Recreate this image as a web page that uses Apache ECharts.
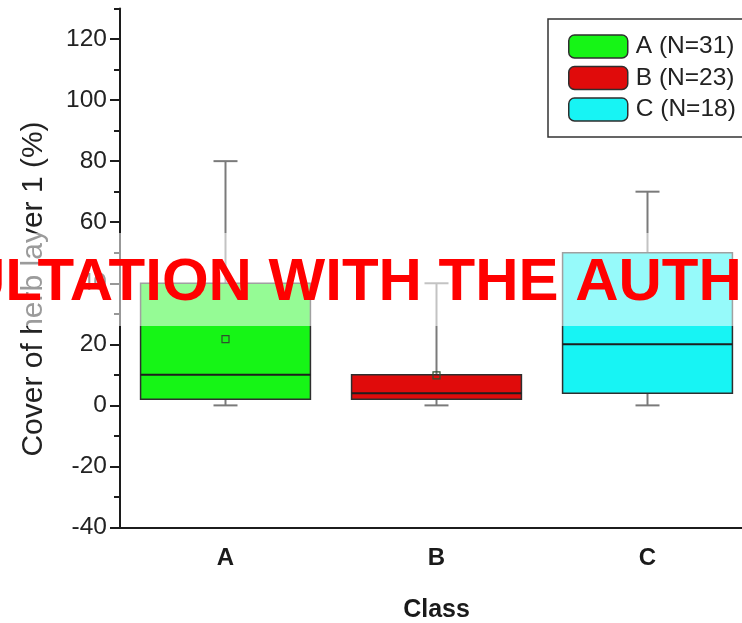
<!DOCTYPE html>
<html>
<head>
<meta charset="utf-8">
<script src="https://cdn.jsdelivr.net/npm/echarts@6/dist/echarts.min.js"></script>
<style>
html,body{margin:0;padding:0;background:#fff;}
#chart{width:742px;height:623px;}
</style>
</head>
<body>
<div id="chart"></div>
<script>
// ---- data ----
const categories = ['A', 'B', 'C'];
const legendNames = ['A (N=31)', 'B (N=23)', 'C (N=18)'];
const whiskerLow = [0, 0, 0];
const q1 = [2, 2, 4];
const median = [10, 4, 20];
const q3 = [40, 10, 50];
const whiskerHigh = [80, 40, 70];
const mean = [21.7, 9.8, null];
const yTickValues = [-40, -20, 0, 20, 40, 60, 80, 100, 120];
const yMinorTickValues = [-30, -10, 10, 30, 50, 70, 90, 110, 130];
const boxColors = ['#16f516', '#e00b0b', '#17f4f4'];
const watermarkText = 'ULTATION WITH THE AUTH';

const FONT = '"Liberation Sans", Arial, sans-serif';

function renderBox(params, api) {
  const x = api.value(0);
  const pLow = api.coord([x, api.value(1)]);
  const pQ1 = api.coord([x, api.value(2)]);
  const pMed = api.coord([x, api.value(3)]);
  const pQ3 = api.coord([x, api.value(4)]);
  const pHigh = api.coord([x, api.value(5)]);
  const bandW = api.size([1, 0])[0];
  const boxW = bandW * 0.805;
  const capW = 24;
  const cx = pMed[0];
  const fill = api.visual('color');
  const whiskerStyle = { stroke: '#7a7a7a', lineWidth: 2 };
  const children = [
    { type: 'line', shape: { x1: cx, y1: pQ3[1], x2: cx, y2: pHigh[1] }, style: whiskerStyle },
    { type: 'line', shape: { x1: cx, y1: pQ1[1], x2: cx, y2: pLow[1] }, style: whiskerStyle },
    { type: 'line', shape: { x1: cx - capW / 2, y1: pHigh[1], x2: cx + capW / 2, y2: pHigh[1] }, style: whiskerStyle },
    { type: 'line', shape: { x1: cx - capW / 2, y1: pLow[1], x2: cx + capW / 2, y2: pLow[1] }, style: whiskerStyle },
    { type: 'rect', shape: { x: cx - boxW / 2, y: pQ3[1], width: boxW, height: pQ1[1] - pQ3[1] },
      style: { fill: fill, stroke: '#2e2e2e', lineWidth: 1.5 } },
    { type: 'line', shape: { x1: cx - boxW / 2, y1: pMed[1], x2: cx + boxW / 2, y2: pMed[1] },
      style: { stroke: '#1e1e1e', lineWidth: 2 } }
  ];
  const m = api.value(6);
  if (m !== null && !isNaN(m)) {
    const pM = api.coord([x, m]);
    children.push({ type: 'rect', shape: { x: pM[0] - 3.5, y: pM[1] - 3.5, width: 7, height: 7 },
      style: { fill: 'none', stroke: '#2f4f2f', lineWidth: 1.2 } });
  }
  return { type: 'group', children: children };
}

const series = categories.map(function (c, i) {
  return {
    type: 'custom',
    name: legendNames[i],
    renderItem: renderBox,
    itemStyle: { color: boxColors[i], borderColor: '#2e2e2e', borderWidth: 1.5 },
    encode: { x: 0, y: [1, 2, 3, 4, 5] },
    data: [[i, whiskerLow[i], q1[i], median[i], q3[i], whiskerHigh[i], mean[i]]],
    z: 2
  };
});

const axisColor = '#1c1c1c';

const option = {
  backgroundColor: '#ffffff',
  animation: false,
  grid: { left: 120, top: 8.5, width: 633, height: 519, outerBoundsMode: 'none', containLabel: false },
  legend: {
    orient: 'vertical',
    left: 548, top: 19,
    padding: [15, 20, 15, 20],
    itemWidth: 59, itemHeight: 23, itemGap: 6.5,
    borderColor: '#333', borderWidth: 1.5,
    icon: 'roundRect',
    textStyle: { fontFamily: FONT, fontSize: 24.5, color: '#222', padding: [0, 0, 0, 3] },
    data: legendNames.map(function (n, i) {
      return { name: n, itemStyle: { color: boxColors[i], borderColor: '#2e2e2e', borderWidth: 1.5 } };
    })
  },
  xAxis: {
    type: 'category',
    data: categories,
    boundaryGap: true,
    axisLine: { onZero: false, lineStyle: { color: axisColor, width: 2 } },
    axisTick: { alignWithLabel: true, length: 10, lineStyle: { color: axisColor, width: 2 } },
    axisLabel: { fontFamily: FONT, fontSize: 24, fontWeight: 'bold', color: '#1a1a1a', margin: 19 },
    splitLine: { show: false },
    name: 'Class',
    nameLocation: 'middle',
    nameGap: 70,
    nameTextStyle: { fontFamily: FONT, fontSize: 25, fontWeight: 'bold', color: '#1a1a1a' }
  },
  yAxis: [
    {
      type: 'value',
      min: -40, max: 130, interval: 20,
      axisLine: { show: true, onZero: false, lineStyle: { color: axisColor, width: 2 } },
      axisTick: { show: true, length: 10, customValues: yTickValues, lineStyle: { color: axisColor, width: 2 } },
      axisLabel: { customValues: yTickValues, fontFamily: FONT, fontSize: 24.5, color: '#222', margin: 13 },
      splitLine: { show: false }
    },
    {
      type: 'value',
      min: -40, max: 130, interval: 20,
      position: 'left',
      axisLine: { show: false, onZero: false },
      axisTick: { show: true, length: 6, customValues: yMinorTickValues, lineStyle: { color: axisColor, width: 2 } },
      axisLabel: { show: false },
      splitLine: { show: false }
    }
  ],
  series: series,
  graphic: [
    {
      type: 'text', z: 50,
      x: 34, y: 289, rotation: Math.PI / 2,
      style: { text: 'Cover of herb layer 1 (%)', font: '30px ' + FONT, fill: '#222',
        align: 'center', verticalAlign: 'middle' }
    },
    {
      type: 'rect', z: 90,
      shape: { x: 0, y: 233, width: 742, height: 93 },
      style: { fill: 'rgba(255,255,255,0.55)' }
    },
    {
      type: 'text', z: 100,
      x: -38, y: 283,
      style: { text: watermarkText, font: 'bold 60px ' + FONT, fill: '#ff0000',
        align: 'left', verticalAlign: 'middle' }
    }
  ]
};

const chart = echarts.init(document.getElementById('chart'), null, { renderer: 'canvas' });
chart.setOption(option);
</script>
</body>
</html>
